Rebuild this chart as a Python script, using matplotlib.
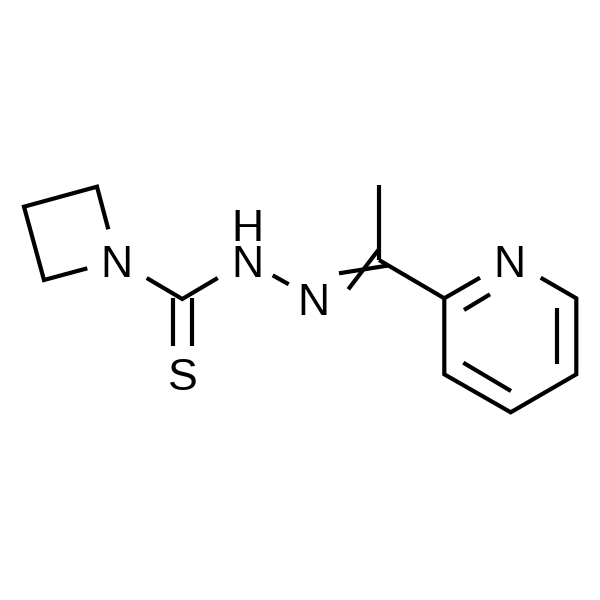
import matplotlib
matplotlib.use('AGG')
import matplotlib.pyplot as plt

plt.rcParams['font.family'] = ['Liberation Sans', 'DejaVu Sans']

# bond paths in pixels
azetidine_x = [108.3, 97, 24, 44, 87.3]
azetidine_y = [229.3, 186.7, 206.7, 280, 268.3]
thio_x = [146.7, 182.3, 217.7]
thio_y = [278, 299, 278]
ring_x = [480, 444.3, 444.3, 510.7, 576.3, 576.3, 540.7]
ring_y = [277.7, 298.3, 374.3, 412.3, 374.3, 298.3, 277.7]

# single segments: (x0, x1), (y0, y1)
segments = [
    ([172.7, 172.7], [298, 345.7]),      # C=S
    ([192, 192], [298, 345.7]),
    ([272.7, 288.7], [275.3, 284.3]),    # N-N
    ([379, 379], [185, 260]),            # methyl
    ([339, 388.3], [273.3, 265.5]),      # C=N
    ([348.3, 378.3], [289.3, 250]),
    ([379, 444.3], [260, 298.3]),        # C-ring
    ([464, 490], [310, 294.3]),          # ring inner bonds
    ([557, 557], [308.3, 364.3]),
    ([463.3, 511], [362.7, 391]),
]

# labels sit on their baseline
atom_labels = ['N', 'H', 'N', 'N', 'N', 'S']
atom_x = [116.7, 247.5, 247.5, 313.7, 509.5, 182.5]
atom_y = [276.7, 240.7, 276.7, 315, 276.7, 389.5]

fig = plt.figure(figsize=(6, 6), dpi=100)
ax = fig.add_axes([0, 0, 1, 1])
ax.set_xlim(0, 600)
ax.set_ylim(600, 0)
ax.axis('off')

lw = 3.0
for xs, ys in [(azetidine_x, azetidine_y), (thio_x, thio_y), (ring_x, ring_y)]:
    ax.plot(xs, ys, color='black', lw=lw, solid_joinstyle='miter', solid_capstyle='butt')
for xs, ys in segments:
    ax.plot(xs, ys, color='black', lw=lw, solid_capstyle='butt')

for label, x, y in zip(atom_labels, atom_x, atom_y):
    ax.text(x, y, label, fontsize=32, color='black', ha='center', va='baseline')

fig.savefig('out.png', dpi=100)
